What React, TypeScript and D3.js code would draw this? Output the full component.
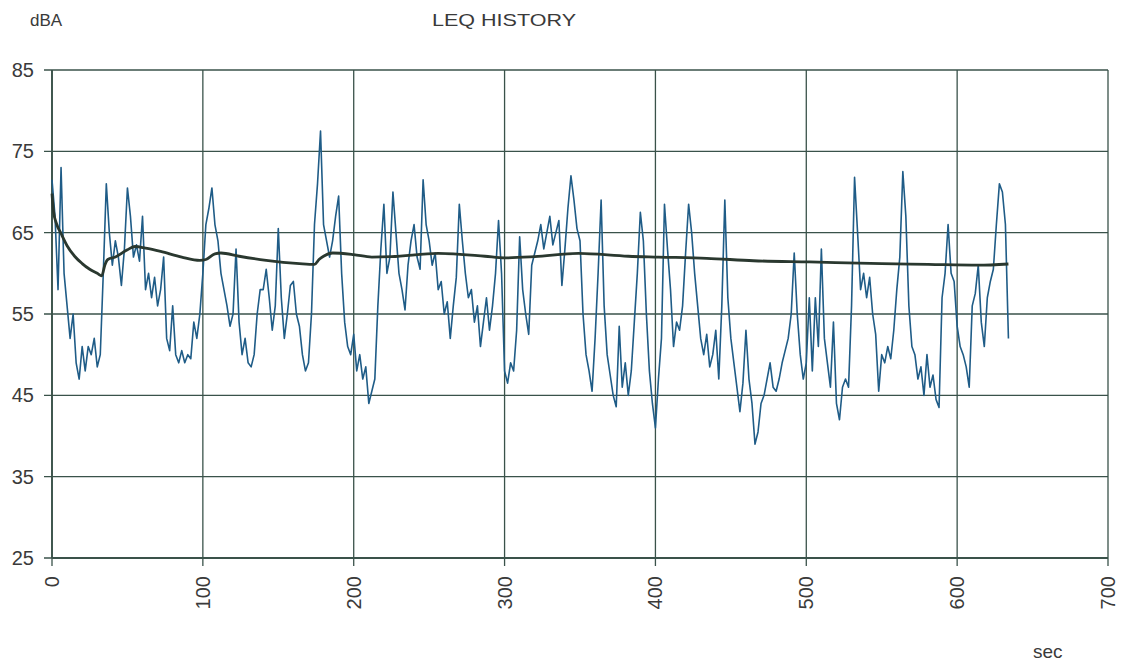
import React from "react";
import * as d3 from "d3";

// ---- data ----
const titleText = "LEQ HISTORY";
const yUnit = "dBA";
const xUnit = "sec";
const yTicks = [25, 35, 45, 55, 65, 75, 85];
const xTicks = [0, 100, 200, 300, 400, 500, 600, 700];
const sampleStepSec = 2;
// instantaneous level, one value every 2 s from 0 s
const levelValues = [
  71.5, 67, 58, 73, 60,
  56, 52, 55, 49, 47,
  51, 48, 51, 50, 52,
  48.5, 50, 60, 71, 65,
  61, 64, 62, 58.5, 63,
  70.5, 67, 62, 63.5, 61.5,
  67, 58, 60, 57, 59.5,
  56, 58, 62, 52, 50.5,
  56, 50, 49, 50.5, 49,
  50, 49.5, 54, 52, 55,
  60, 66, 68, 70.5, 66,
  64, 60, 58, 56, 53.5,
  55, 63, 54, 50, 52,
  49, 48.5, 50, 55, 58,
  58, 60.5, 57, 53, 56,
  65.5, 57, 52, 55, 58.5,
  59, 55, 53.5, 50, 48,
  49, 55, 66, 71, 77.5,
  66, 64, 62, 64, 67,
  69.5, 60, 54, 51, 50,
  52.5, 48, 50, 47, 48.5,
  44, 45.5, 47, 56, 63,
  68.5, 60, 62, 70, 65,
  60, 58, 55.5, 61, 64,
  66, 62, 60.5, 71.5, 66,
  64, 61, 62.5, 58, 59,
  55, 56.5, 52, 56, 59.5,
  68.5, 64, 60, 57, 58,
  54, 56, 51, 54, 57,
  53, 56, 60, 66.5, 60,
  48, 46.5, 49, 48, 53,
  64.5, 58, 55, 52.5, 61,
  62.5, 64, 66, 63, 65,
  67, 63.5, 65, 66.5, 58.5,
  63, 68, 72, 69, 65.5,
  64, 55, 50, 48, 45.5,
  52, 60, 69, 56, 50,
  47.5, 45, 43.6, 53.5, 46,
  49, 45, 48, 54, 60,
  67.5, 64, 55, 48, 44,
  41, 47, 52, 68.5, 63,
  58, 51, 54, 53, 56,
  62.5, 68.5, 65, 60, 56,
  52, 50, 52.5, 48.5, 50,
  53, 47, 56, 69, 57,
  52, 49, 46, 43, 46.5,
  53, 47, 44, 39, 40.5,
  44, 45, 47, 49, 46,
  45.5, 47, 49, 50.5, 52,
  55, 62.5, 55, 50, 47,
  49, 57, 48, 57, 51,
  63, 52, 49, 46, 54,
  44, 42, 46, 47, 46,
  56, 71.8, 65, 58, 60,
  57, 59.5, 55, 52.5, 45.5,
  50, 49, 51, 49.5, 53,
  58, 62, 72.5, 67, 56,
  51, 50, 47, 48.5, 45,
  50, 46, 47.5, 44.5, 43.5,
  57, 60, 66, 60, 59,
  53.5, 51, 50, 48.5, 46,
  56, 57.5, 61, 54, 51,
  57, 59, 60.5, 66, 71,
  70, 66, 52,
];
// running Leq
const leqSec = [0, 1, 3, 6, 10, 15, 20, 25, 30, 33, 35, 37, 42, 50, 55, 62, 72, 86, 98, 102, 108, 112, 124, 142, 164, 174, 177, 180, 186, 200, 212, 225, 256, 287, 300, 320, 349, 382, 402, 434, 465, 502, 550, 581, 614, 634];
const leqValues = [69.8, 67.6, 66.1, 64.9, 63.4, 62.1, 61.2, 60.5, 60.0, 59.7, 61.0, 61.7, 62.0, 62.9, 63.3, 63.1, 62.7, 62.0, 61.6, 61.7, 62.4, 62.5, 62.1, 61.6, 61.2, 61.1, 61.7, 62.1, 62.5, 62.3, 62.0, 62.05, 62.45, 62.1, 61.9, 62.05, 62.45, 62.1, 62.0, 61.85, 61.55, 61.4, 61.2, 61.1, 61.0, 61.15];

const W = 1121;
const H = 665;
const M = { left: 52, right: 1108, top: 70, bottom: 558 };
const gridColor = "#3a524a";
const textColor = "#3a3a3a";
const font = "'Liberation Sans', Arial, sans-serif";

export default function App() {
  const x = d3.scaleLinear().domain([0, 700]).range([M.left, M.right]);
  const y = d3.scaleLinear().domain([25, 85]).range([M.bottom, M.top]);

  const levelPts: [number, number][] = levelValues.map((v, i) => [i * sampleStepSec, v]);
  const leqPts: [number, number][] = leqSec.map((s, i) => [s, leqValues[i]]);

  const line = d3
    .line<[number, number]>()
    .x((d) => x(d[0]))
    .y((d) => y(d[1]));
  const smooth = d3
    .line<[number, number]>()
    .x((d) => x(d[0]))
    .y((d) => y(d[1]))
    .curve(d3.curveMonotoneX);

  return (
    <svg
      width={W}
      height={H}
      style={{ position: "absolute", left: 0, top: 0, background: "#ffffff" }}
      fontFamily={font}
    >
      {yTicks.map((t) => (
        <g key={"y" + t}>
          <line x1={M.left - 8} x2={M.right} y1={y(t)} y2={y(t)} stroke={gridColor} strokeWidth={1.3} />
          <text x={34} y={y(t) + 7} textAnchor="end" fontSize={20} fill={textColor}>
            {t}
          </text>
        </g>
      ))}
      {xTicks.map((t) => (
        <g key={"x" + t}>
          <line x1={x(t)} x2={x(t)} y1={M.top} y2={M.bottom + 8} stroke={gridColor} strokeWidth={1.3} />
          <text
            transform={`translate(${x(t) + 7},${M.bottom + 18}) rotate(-90)`}
            textAnchor="end"
            fontSize={20}
            fill={textColor}
          >
            {t}
          </text>
        </g>
      ))}
      <line x1={M.left} x2={M.left} y1={M.top} y2={M.bottom} stroke={gridColor} strokeWidth={1.8} />
      <line x1={M.left} x2={M.right} y1={M.bottom} y2={M.bottom} stroke={gridColor} strokeWidth={1.8} />

      <path d={line(levelPts) || ""} fill="none" stroke="#1f5c87" strokeWidth={1.6} strokeLinejoin="round" />
      <path d={smooth(leqPts) || ""} fill="none" stroke="#2a382f" strokeWidth={2.8} />

      <text x={30} y={26} fontSize={17} fill={textColor}>
        {yUnit}
      </text>
      <text x={432} y={26} fontSize={17} fill={textColor} textLength={144} lengthAdjust="spacingAndGlyphs">
        {titleText}
      </text>
      <text x={1033} y={658} fontSize={19} fill={textColor}>
        {xUnit}
      </text>
    </svg>
  );
}
